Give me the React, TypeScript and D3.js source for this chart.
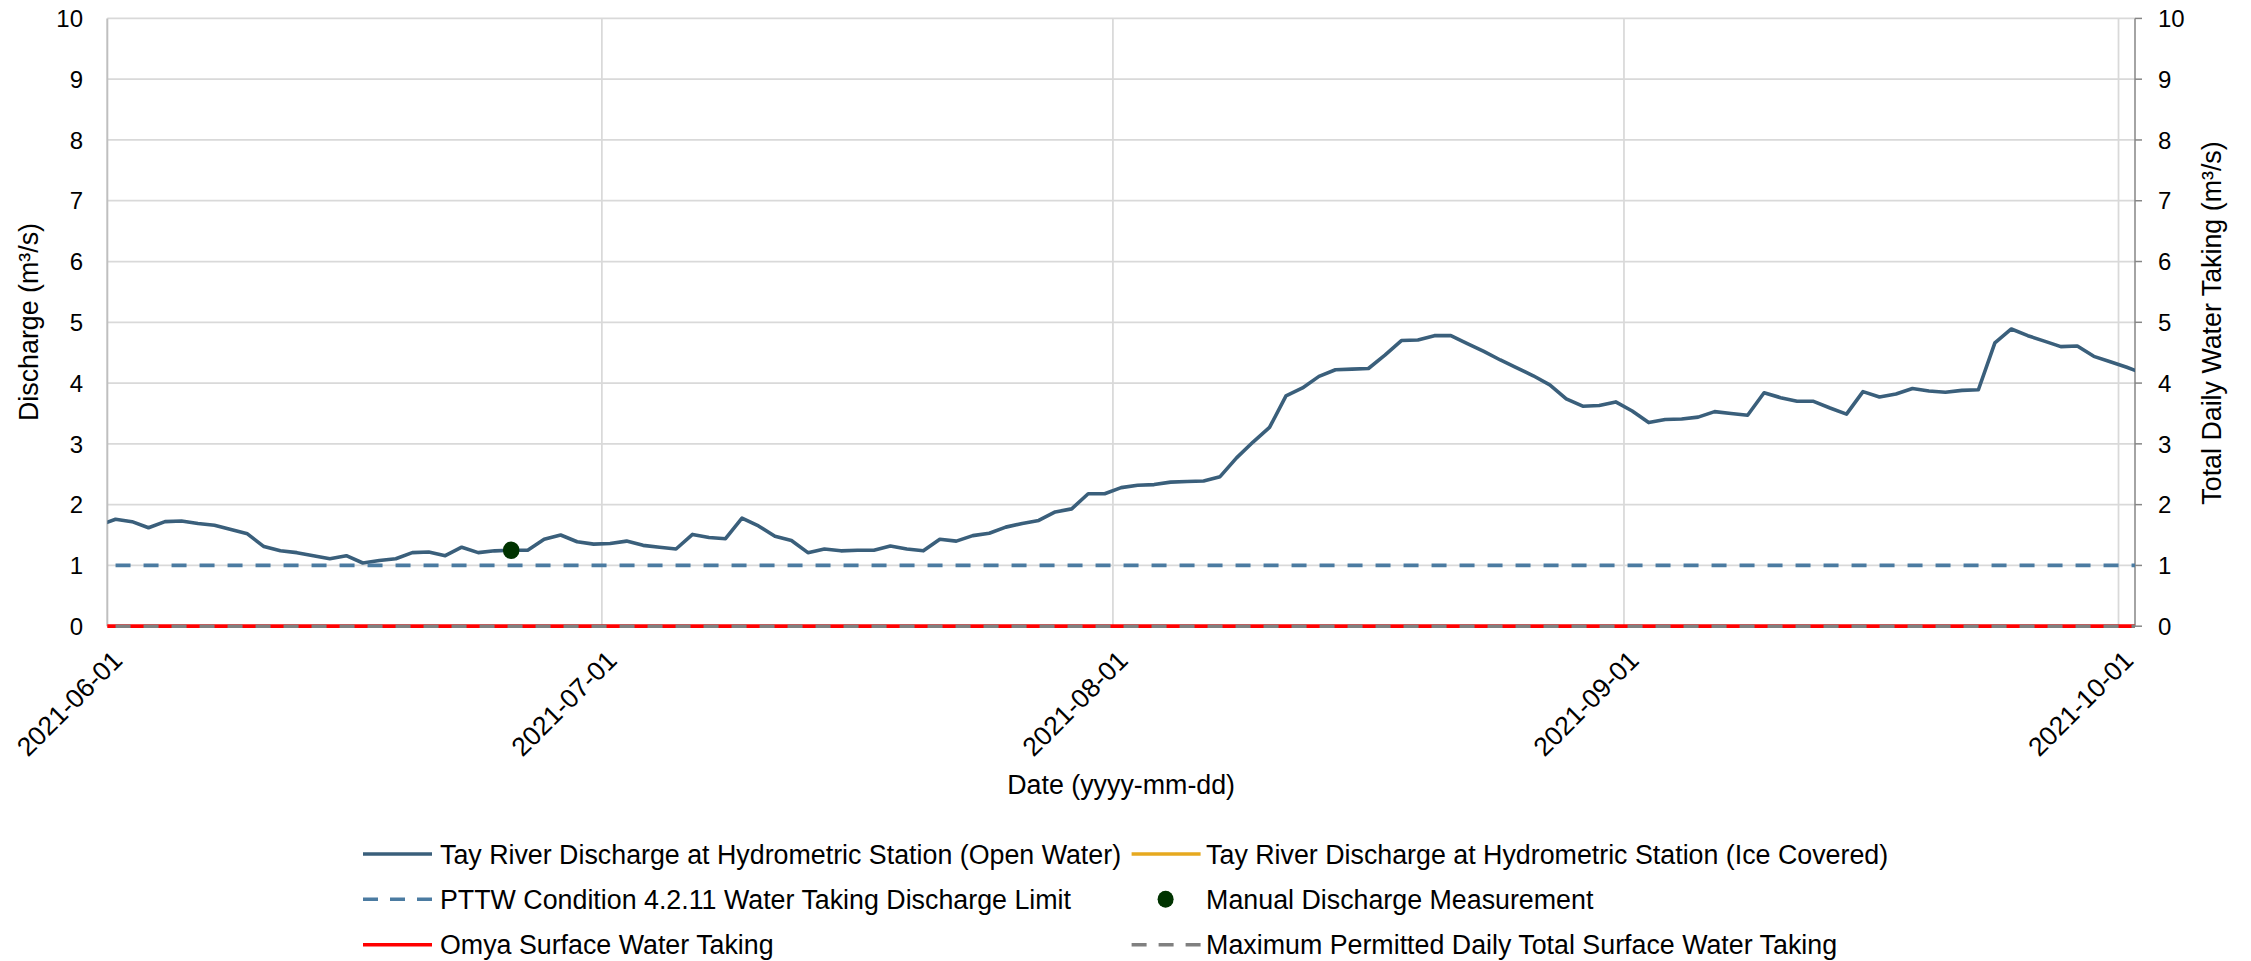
import React from "react";
import * as d3 from "d3";

// ---- data ----
const FIRST_DAY = "2021-05-31"; // daily values plotted at noon, first entry clipped by the axis
const discharge: number[] = [
  1.66,
  // June
  1.76, 1.72, 1.62, 1.72, 1.73, 1.69, 1.66, 1.59, 1.52, 1.31,
  1.24, 1.21, 1.16, 1.11, 1.16, 1.04, 1.08, 1.11, 1.21, 1.22,
  1.16, 1.30, 1.21, 1.24, 1.25, 1.25, 1.43, 1.50, 1.39, 1.35,
  // July
  1.36, 1.40, 1.33, 1.30, 1.27, 1.51, 1.46, 1.44, 1.78, 1.65,
  1.48, 1.41, 1.21, 1.27, 1.24, 1.25, 1.25, 1.32, 1.27, 1.24,
  1.43, 1.40, 1.49, 1.53, 1.63, 1.69, 1.74, 1.88, 1.93, 2.18, 2.18,
  // August
  2.28, 2.32, 2.33, 2.37, 2.38, 2.39, 2.46, 2.77, 3.03, 3.27,
  3.79, 3.92, 4.11, 4.22, 4.23, 4.24, 4.46, 4.70, 4.71, 4.78,
  4.78, 4.65, 4.52, 4.38, 4.25, 4.12, 3.97, 3.74, 3.62, 3.63, 3.69,
  // September
  3.54, 3.35, 3.40, 3.41, 3.44, 3.53, 3.50, 3.47, 3.84, 3.76,
  3.70, 3.70, 3.59, 3.49, 3.86, 3.77, 3.82, 3.91, 3.87, 3.85,
  3.88, 3.89, 4.66, 4.89, 4.78, 4.69, 4.60, 4.61, 4.44, 4.35,
  // October
  4.26, 4.16,
];
const pttwLimit = 1;
const omyaTaking = 0;
const maxPermitted = 0;
const manualDates = ["2021-06-25"];
const manualValues = [1.25];
const xTickLabels = ["2021-06-01", "2021-07-01", "2021-08-01", "2021-09-01", "2021-10-01"];
const xDomain = ["2021-06-01", "2021-10-02"];
const yTicks = [0, 1, 2, 3, 4, 5, 6, 7, 8, 9, 10];
const yLabelLeft = "Discharge (m³/s)";
const yLabelRight = "Total Daily Water Taking (m³/s)";
const xLabel = "Date (yyyy-mm-dd)";
const legendLabels = [
  "Tay River Discharge at Hydrometric Station (Open Water)",
  "Tay River Discharge at Hydrometric Station (Ice Covered)",
  "PTTW Condition 4.2.11 Water Taking Discharge Limit",
  "Manual Discharge Measurement",
  "Omya Surface Water Taking",
  "Maximum Permitted Daily Total Surface Water Taking",
];

// ---- style ----
const W = 2251;
const H = 961;
const FONT = "'Liberation Sans', Arial, Helvetica, sans-serif";
const C_MAIN = "#3a5f7b";
const C_ICE = "#e6a91f";
const C_PTTW = "#4b7ba1";
const C_MANUAL = "#003300";
const C_OMYA = "#ff0000";
const C_MAX = "#808080";
const C_GRID = "#d9d9d9";
const DASH = "15 13";
const FS_TEXT = 26.8;
const FS_YTICK = 24;
const FS_XTICK = 26.5;

export default function App() {
  const parse = d3.utcParse("%Y-%m-%d");
  const first = parse(FIRST_DAY)!;
  const noon = (i: number) => d3.utcHour.offset(d3.utcDay.offset(first, i), 12);

  const x = d3
    .scaleUtc()
    .domain(xDomain.map((s) => parse(s)!))
    .range([107.3, 2135]);
  const y = d3.scaleLinear().domain([0, 10]).range([626.2, 18.4]);

  const [x0, x1] = x.range();
  const [yb, yt] = y.range();

  const series = discharge.map((v, i) => ({ d: noon(i), v }));
  const line = d3
    .line<{ d: Date; v: number }>()
    .x((p) => x(p.d))
    .y((p) => y(p.v));

  const flat = (v: number, fromIdx: number) =>
    line(discharge.slice(fromIdx).map((_, i) => ({ d: noon(i + fromIdx), v })));

  const manual = manualDates.map((s, i) => ({
    d: d3.utcHour.offset(parse(s)!, 12),
    v: manualValues[i],
  }));

  // legend layout
  const legCols = [363, 1131.6];
  const legRows = [854, 899.3, 944.7];
  const sampleW = 69;

  const legendSample = (k: number, lx: number, ly: number) => {
    if (k === 0)
      return <line x1={lx} x2={lx + sampleW} y1={ly} y2={ly} stroke={C_MAIN} strokeWidth={3.6} />;
    if (k === 1)
      return <line x1={lx} x2={lx + sampleW} y1={ly} y2={ly} stroke={C_ICE} strokeWidth={3.6} />;
    if (k === 2)
      return (
        <line x1={lx} x2={lx + sampleW} y1={ly} y2={ly} stroke={C_PTTW} strokeWidth={3.6} strokeDasharray="15 12" />
      );
    if (k === 3) return <ellipse cx={lx + 34} cy={ly} rx={8} ry={8.5} fill={C_MANUAL} />;
    if (k === 4)
      return <line x1={lx} x2={lx + sampleW} y1={ly} y2={ly} stroke={C_OMYA} strokeWidth={3.6} />;
    return (
      <line x1={lx} x2={lx + sampleW} y1={ly} y2={ly} stroke={C_MAX} strokeWidth={3.6} strokeDasharray="15 12" />
    );
  };

  return (
    <div style={{ position: "absolute", left: 0, top: 0, width: W, height: H, background: "#fff" }}>
      <svg width={W} height={H} style={{ display: "block", fontFamily: FONT }}>
        <defs>
          <clipPath id="plot">
            <rect x={x0} y={yt - 2} width={x1 - x0} height={yb - yt + 4} />
          </clipPath>
        </defs>
        <rect x={0} y={0} width={W} height={H} fill="#fff" />

        {/* horizontal gridlines */}
        {yTicks
          .filter((t) => t > 0)
          .map((t) => (
            <line key={"h" + t} x1={x0} x2={x1} y1={y(t)} y2={y(t)} stroke={C_GRID} strokeWidth={1.75} />
          ))}
        {/* vertical gridlines */}
        {xTickLabels.slice(1).map((s) => (
          <line
            key={"v" + s}
            x1={x(parse(s)!)}
            x2={x(parse(s)!)}
            y1={yt}
            y2={yb}
            stroke={C_GRID}
            strokeWidth={1.75}
          />
        ))}

        {/* axes */}
        <line x1={x0} x2={x0} y1={yt} y2={yb} stroke="#bfbfbf" strokeWidth={2} />
        <line x1={x1} x2={x1} y1={yt} y2={yb} stroke="#868686" strokeWidth={1.5} />
        {yTicks.map((t) => (
          <line key={"rt" + t} x1={x1} x2={x1 + 7} y1={y(t)} y2={y(t)} stroke="#868686" strokeWidth={1.5} />
        ))}
        <line x1={x0} x2={x1} y1={yb} y2={yb} stroke="#bfbfbf" strokeWidth={1.5} />

        {/* series */}
        <g clipPath="url(#plot)">
          <path d={line(series) || ""} fill="none" stroke={C_MAIN} strokeWidth={3.6} strokeLinejoin="round" />
          <path d={flat(pttwLimit, 1) || ""} fill="none" stroke={C_PTTW} strokeWidth={3.6} strokeDasharray={DASH} />
          <path d={flat(omyaTaking, 0) || ""} fill="none" stroke={C_OMYA} strokeWidth={3.8} />
          <path d={flat(maxPermitted, 1) || ""} fill="none" stroke={C_MAX} strokeWidth={3.6} strokeDasharray={DASH} />
        </g>
        {manual.map((p, i) => (
          <ellipse key={"m" + i} cx={x(p.d)} cy={y(p.v)} rx={8.3} ry={8.7} fill={C_MANUAL} />
        ))}

        {/* y tick labels */}
        {yTicks.map((t) => (
          <text key={"yl" + t} x={83} y={y(t)} dy="0.36em" textAnchor="end" fontSize={FS_YTICK} fill="#000">
            {t}
          </text>
        ))}
        {yTicks.map((t) => (
          <text key={"yr" + t} x={2158} y={y(t)} dy="0.36em" textAnchor="start" fontSize={FS_YTICK} fill="#000">
            {t}
          </text>
        ))}

        {/* x tick labels */}
        {xTickLabels.map((s) => {
          const tx = x(parse(s)!) + 16.5;
          const ty = 662;
          return (
            <text
              key={"xl" + s}
              x={tx}
              y={ty}
              textAnchor="end"
              fontSize={FS_XTICK}
              fill="#000"
              transform={`rotate(-45 ${tx} ${ty})`}
            >
              {s}
            </text>
          );
        })}

        {/* axis titles */}
        <text
          x={38}
          y={322}
          textAnchor="middle"
          fontSize={FS_TEXT}
          fill="#000"
          transform="rotate(-90 38 322)"
        >
          {yLabelLeft}
        </text>
        <text
          x={2221}
          y={323}
          textAnchor="middle"
          fontSize={FS_TEXT}
          fill="#000"
          transform="rotate(-90 2221 323)"
        >
          {yLabelRight}
        </text>
        <text x={(x0 + x1) / 2} y={794} textAnchor="middle" fontSize={FS_TEXT} fill="#000">
          {xLabel}
        </text>

        {/* legend */}
        {legendLabels.map((lab, k) => {
          const lx = legCols[k % 2];
          const ly = legRows[Math.floor(k / 2)];
          return (
            <g key={"lg" + k}>
              {legendSample(k, lx, ly)}
              <text x={lx + (k % 2 === 0 ? 77 : 74.5)} y={ly} dy="0.36em" fontSize={FS_TEXT} fill="#000">
                {lab}
              </text>
            </g>
          );
        })}
      </svg>
    </div>
  );
}
